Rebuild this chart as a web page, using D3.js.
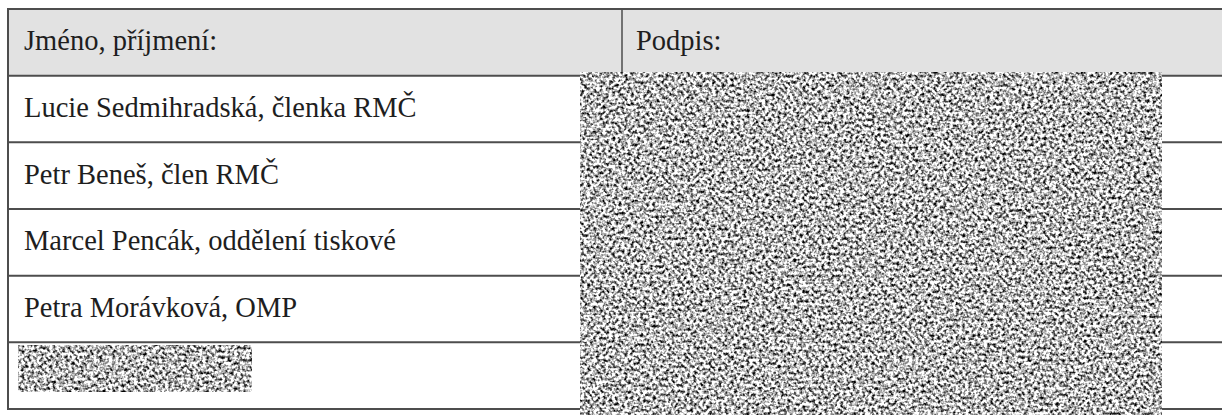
<!DOCTYPE html>
<html>
<head>
<meta charset="utf-8">
<script src="https://cdn.jsdelivr.net/npm/d3@7"></script>
<style>
  html, body { margin: 0; padding: 0; background: #fff; }
  svg { display: block; }
</style>
</head>
<body>
<div id="chart"></div>
<script>
// Table content
const headers = ['Jméno, příjmení:', 'Podpis:'];
const names = [
  'Lucie Sedmihradská, členka RMČ',
  'Petr Beneš, člen RMČ',
  'Marcel Pencák, oddělení tiskové',
  'Petra Morávková, OMP',
  ''
];
// row indexes covered by redaction blocks: [firstRow, lastRow]
const signatureRedaction = [1, 5];
const nameRedaction = [5, 5];

const width = 1222;
const height = 415;
const tableLeft = 8;
const dividerX = 622;
const textPad = 16;
const lineColor = '#4d4d4d';

const svg = d3.select('#chart').append('svg')
  .attr('width', width)
  .attr('height', height);

// speckle filter used for the redacted areas
const defs = svg.append('defs');
const speckle = defs.append('filter')
  .attr('id', 'speckle')
  .attr('x', 0).attr('y', 0)
  .attr('width', '100%').attr('height', '100%')
  .attr('color-interpolation-filters', 'sRGB');
speckle.append('feTurbulence')
  .attr('type', 'fractalNoise')
  .attr('baseFrequency', 0.32)
  .attr('numOctaves', 2)
  .attr('seed', 7);
speckle.append('feColorMatrix')
  .attr('type', 'matrix')
  .attr('values', '2.6 0 0 0 -0.58  2.6 0 0 0 -0.58  2.6 0 0 0 -0.58  0 0 0 0 1');
speckle.append('feGaussianBlur')
  .attr('stdDeviation', 0.4);

const rowCount = names.length + 1;
const y = d3.scaleLinear()
  .domain([0, rowCount])
  .range([9, 409]);

// Header background
svg.append('rect')
  .attr('x', tableLeft)
  .attr('y', y(0))
  .attr('width', width - tableLeft)
  .attr('height', y(1) - y(0))
  .attr('fill', '#e2e2e2');

// Horizontal rules
svg.selectAll('line.row')
  .data(d3.range(rowCount + 1))
  .join('line')
  .attr('class', 'row')
  .attr('x1', tableLeft)
  .attr('x2', width)
  .attr('y1', d => y(d))
  .attr('y2', d => y(d))
  .attr('stroke', lineColor)
  .attr('stroke-width', 2);

// Left border
svg.append('line')
  .attr('x1', tableLeft).attr('x2', tableLeft)
  .attr('y1', y(0) - 1).attr('y2', y(rowCount) + 1)
  .attr('stroke', lineColor)
  .attr('stroke-width', 2);

// Column divider (visible in header, rest is under the redaction)
svg.append('line')
  .attr('x1', dividerX).attr('x2', dividerX)
  .attr('y1', y(0)).attr('y2', y(rowCount))
  .attr('stroke', lineColor)
  .attr('stroke-width', 1.5);

// Header labels
const colX = [tableLeft + textPad, dividerX + textPad - 2];
const fontFamily = '"Liberation Serif", "Times New Roman", serif';
const fontSize = '28.5px';

svg.selectAll('text.header')
  .data(headers)
  .join('text')
  .attr('class', 'header')
  .attr('x', (d, i) => colX[i])
  .attr('y', (y(0) + y(1)) / 2 + 8)
  .attr('fill', '#1e1e1e')
  .attr('font-size', fontSize)
  .attr('font-family', fontFamily)
  .text(d => d);

// Name cells
svg.selectAll('text.name')
  .data(names)
  .join('text')
  .attr('class', 'name')
  .attr('x', colX[0])
  .attr('y', (d, i) => (y(i + 1) + y(i + 2)) / 2 + 8)
  .attr('fill', '#1e1e1e')
  .attr('font-size', fontSize)
  .attr('font-family', fontFamily)
  .text(d => d);

// Redactions
svg.append('rect')
  .attr('x', 580)
  .attr('y', y(signatureRedaction[0]) - 3)
  .attr('width', 582)
  .attr('height', height - y(signatureRedaction[0]) + 3)
  .attr('filter', 'url(#speckle)');

svg.append('rect')
  .attr('x', 18)
  .attr('y', y(nameRedaction[0]) + 3)
  .attr('width', 234)
  .attr('height', 46)
  .attr('filter', 'url(#speckle)');
</script>
</body>
</html>
